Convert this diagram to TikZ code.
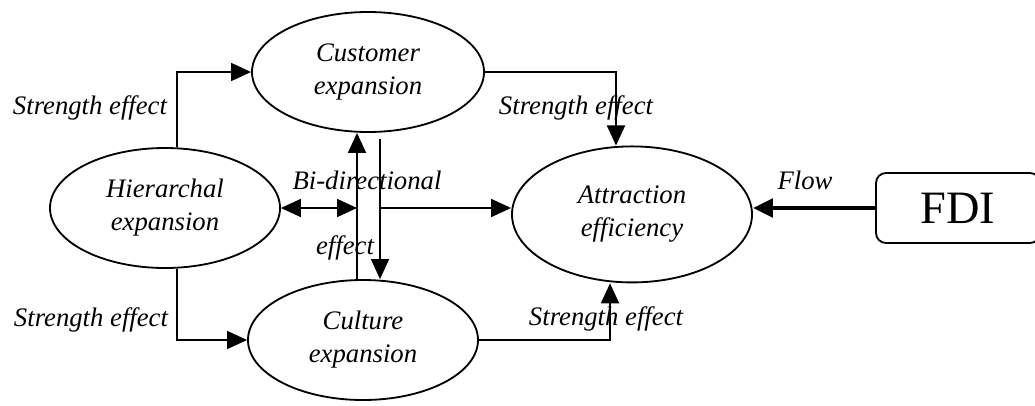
\documentclass[tikz,border=0pt]{standalone}
\usepackage{fontspec}
\setmainfont{Liberation Serif}
\usetikzlibrary{arrows.meta,shapes.geometric}

\begin{document}
\begin{tikzpicture}[>={Triangle[length=0.5cm,width=0.45cm]}, line width=1.3pt,
    bubble/.style={draw, ellipse, align=center, inner sep=0pt,
        font=\fontsize{19}{23.5}\selectfont\itshape},
    lbl/.style={font=\fontsize{19}{23.5}\selectfont\itshape}]
    \useasboundingbox (0,0) rectangle (25.875,-10.125);

    \node[bubble, minimum width=5.8cm, minimum height=3cm] (cust) at (9.2,-1.8) {Customer\\expansion};
    \node[bubble, minimum width=5.75cm, minimum height=3cm] (hier) at (4.125,-5.2) {Hierarchal\\expansion};
    \node[bubble, minimum width=5.75cm, minimum height=3cm] (cult) at (9.075,-8.5) {Culture\\expansion};
    \node[bubble, minimum width=6cm, minimum height=3.4cm] (attr) at (15.8,-5.36) {Attraction\\efficiency};

    \node[draw, rounded corners=0.25cm, minimum width=4.1cm, minimum height=1.75cm,
        font=\fontsize{33}{36}\selectfont] (fdi) at (23.95,-5.2) {FDI};

    \coordinate (upx) at (8.925,0);
    \coordinate (dnx) at (9.5,0);

    \draw[->] ([xshift=0.3cm]hier.north) |- (cust.west);
    \draw[->] ([xshift=0.3cm]hier.south) |- (cult.west);
    \draw[->] (cust.east) -| ([xshift=-0.4cm]attr.north);
    \draw[->] (cult.east) -| ([xshift=-0.55cm]attr.south);

    \draw[<->] (hier.east) -- (hier.east -| upx);
    \draw[->] (upx |- cult.north) -- (upx |- cust.south);
    \draw[->] ([yshift=-0.15cm]dnx |- cust.south) -- (dnx |- cult.north);
    \draw[->] (hier.east -| dnx) -- (attr.west |- hier.east);

    \draw[->, line width=3.5pt] (fdi.west) -- (attr.east |- fdi.west);

    \node[lbl] (s1) at (2.25,-2.7) {Strength effect};
    \node[lbl] (s2) at (2.275,-8.0) {Strength effect};
    \node[lbl] (s3) at (14.4,-2.7) {Strength effect};
    \node[lbl] (s4) at (15.15,-7.975) {Strength effect};
    \node[lbl] (bi) at (9.175,-4.5) {Bi-directional};
    \node[lbl] (ef) at (8.625,-6.2) {effect};
    \node[lbl] (fl) at (20.125,-4.5) {Flow};
\end{tikzpicture}
\end{document}
